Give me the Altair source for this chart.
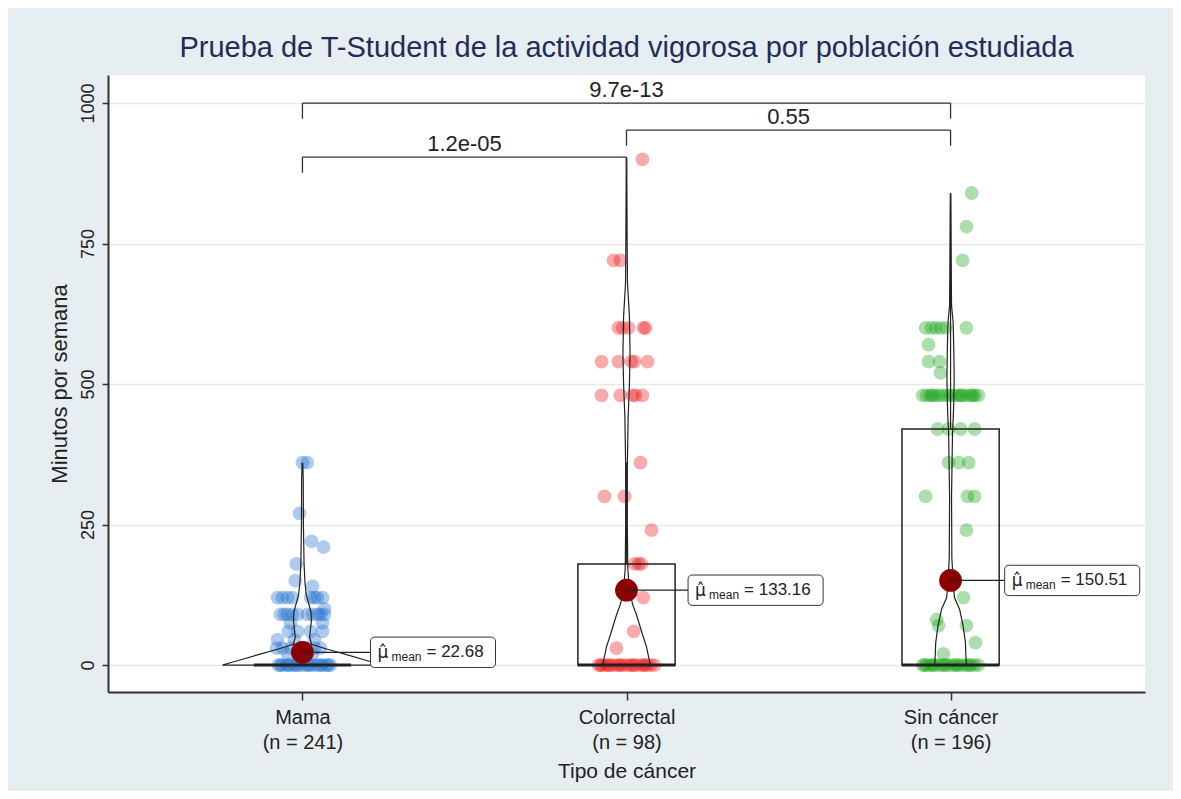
import altair as alt
import pandas as pd

# ---------------- data ----------------
categories = ["Mama", "Colorrectal", "Sin cáncer"]
n_counts = [241, 98, 196]
means = [22.68, 133.16, 150.51]
q1 = [0, 0, 0]
medians = [0, 0, 0]
q3 = [0, 180, 420]
whisker_hi = [0, 360, 840]

point_colors = ["#1f6fcc", "#ee1515", "#16a316"]

# jittered observations (value, horizontal jitter in category units)
mama_values = [360, 360, 270, 220, 210, 180, 150, 140,
               120, 120, 120, 120, 120, 120, 120, 120,
               100,
               90, 90, 90, 90, 90, 90, 90, 90, 90, 90,
               75, 75, 60, 60, 60, 60, 45, 45, 45,
               30, 30, 30, 30, 30, 30, 20, 20,
               0, 0, 0, 0, 0, 0, 0, 0, 0, 0, 0, 0, 0, 0, 0, 0, 0, 0, 0, 0]
mama_jitter = [0.000, 0.015, -0.009, 0.028, 0.065, -0.019, -0.022, 0.031,
               -0.077, -0.062, -0.046, 0.025, 0.037, 0.046, 0.062, -0.031,
               0.068,
               -0.068, -0.046, -0.031, -0.015, 0.015, 0.031, 0.046, 0.068, -0.056, 0.056,
               -0.037, 0.062, -0.043, 0.062, 0.025, -0.015, -0.077, -0.025, 0.037,
               -0.080, -0.062, -0.037, 0.012, 0.037, 0.056, -0.046, 0.031,
               -0.074, -0.062, -0.049, -0.037, -0.025, -0.012, 0.000, 0.012, 0.025, 0.037,
               0.049, 0.062, 0.074, 0.086, -0.068, -0.019, 0.019, 0.056, 0.080, -0.043]

colo_values = [900, 720, 720, 600, 600, 600, 600, 600,
               540, 540, 540, 540, 540, 480, 480, 480, 480, 480,
               360, 300, 300, 240, 180, 180, 180, 120, 60, 30,
               0, 0, 0, 0, 0, 0, 0, 0, 0, 0, 0, 0, 0, 0, 0, 0, 0, 0, 0, 0]
colo_jitter = [0.049, -0.040, -0.019, -0.025, -0.012, 0.052, 0.059, 0.006,
               -0.077, -0.025, 0.015, 0.025, 0.065, -0.077, -0.019, 0.019, 0.028, 0.049,
               0.043, -0.068, -0.006, 0.077, 0.025, 0.037, 0.046, 0.052, 0.022, -0.031,
               -0.086, -0.074, -0.062, -0.049, -0.037, -0.025, -0.012, 0.000, 0.012, 0.025,
               0.037, 0.049, 0.062, 0.074, 0.086, -0.056, -0.019, 0.019, 0.056, -0.080]

sin_values = [840, 780, 720, 600, 600, 600, 600, 600, 600, 570, 540, 540, 520,
              480, 480, 480, 480, 480, 480, 480, 480, 480, 480, 480, 480, 480, 480, 480, 480, 480, 480,
              420, 420, 420, 420, 360, 360, 360, 300, 300, 300, 240, 120, 81, 70, 70, 40, 20,
              0, 0, 0, 0, 0, 0, 0, 0, 0, 0, 0, 0, 0, 0, 0, 0, 0, 0, 0, 0]
sin_jitter = [0.065, 0.049, 0.037, -0.077, -0.059, -0.046, -0.015, 0.049, -0.031, -0.068, -0.068, -0.034, -0.031,
              -0.086, -0.074, -0.062, -0.049, -0.037, -0.025, -0.012, 0.000, 0.012, 0.025, 0.037, 0.049,
              0.062, 0.074, 0.086, -0.056, 0.031, 0.068,
              -0.040, -0.006, 0.031, 0.074, -0.006, 0.025, 0.056, -0.077, 0.052, 0.074, 0.049, 0.040,
              -0.043, -0.037, 0.049, 0.077, -0.022,
              -0.086, -0.074, -0.062, -0.049, -0.037, -0.025, -0.012, 0.000, 0.012, 0.025,
              0.037, 0.049, 0.062, 0.074, 0.086, -0.056, -0.019, 0.019, 0.056, -0.080]

# violin outlines: value levels and half-widths (category units)
mama_violin_y = [0, 8, 18, 28, 37, 50, 65, 80, 95, 110, 125, 145, 180, 250, 330, 359]
mama_violin_w = [0.247, 0.198, 0.139, 0.077, 0.028, 0.022, 0.025, 0.028, 0.026, 0.019,
                 0.012, 0.008, 0.005, 0.003, 0.0025, 0.001]
colo_violin_y = [0, 15, 32, 57, 89, 108, 132, 172, 250, 350, 440, 500, 553, 620, 680, 750, 850, 902]
colo_violin_w = [0.074, 0.068, 0.062, 0.048, 0.031, 0.019, 0.009, 0.004, 0.0025, 0.0025,
                 0.005, 0.009, 0.011, 0.009, 0.003, 0.002, 0.0012, 0.0006]
sin_violin_y = [0, 20, 39, 69, 99, 120, 150, 190, 300, 411, 450, 500, 519, 560, 609, 640, 720, 800, 838]
sin_violin_w = [0.049, 0.047, 0.046, 0.039, 0.028, 0.012, 0.008, 0.004, 0.003, 0.006,
                0.009, 0.011, 0.011, 0.010, 0.008, 0.003, 0.002, 0.0012, 0.0006]

# pairwise comparisons (ggsignif style)
comp_from = [1, 2, 1]
comp_to = [2, 3, 3]
comp_label = ["1.2e-05", "0.55", "9.7e-13"]
comp_level = [904, 952, 1000]

# where each mean label box starts, right of its group (category units)
label_offsets = [0.21, 0.19, 0.167]

# -------------- tables built from the lists --------------
groups = [1, 2, 3]
pts = []
for g, vals, jit in zip(groups, [mama_values, colo_values, sin_values],
                        [mama_jitter, colo_jitter, sin_jitter]):
    for v, j in zip(vals, jit):
        pts.append({"g": g, "x": g + j, "v": v, "cat": categories[g - 1]})
pts = pd.DataFrame(pts)

vrows = []
for g, ys, ws in zip(groups, [mama_violin_y, colo_violin_y, sin_violin_y],
                     [mama_violin_w, colo_violin_w, sin_violin_w]):
    k = 0
    for y, w in zip(ys, ws):
        vrows.append({"g": g, "x": g + w, "v": y, "o": k}); k += 1
    for y, w in zip(reversed(ys), reversed(ws)):
        vrows.append({"g": g, "x": g - w, "v": y, "o": k}); k += 1
    vrows.append({"g": g, "x": g + ws[0], "v": ys[0], "o": k})
violin = pd.DataFrame(vrows)

summ = pd.DataFrame({
    "g": groups, "cat": categories, "n": n_counts, "mean": means,
    "q1": q1, "med": medians, "q3": q3, "whi": whisker_hi, "off": label_offsets,
})
summ["meantxt"] = ["= " + f"{m:.2f}" for m in means]

comps = pd.DataFrame({"a": comp_from, "b": comp_to, "lab": comp_label, "lev": comp_level})

# -------------- scales / axes --------------
label_expr = " : ".join(
    f"datum.value == {g} ? ['{c}', '(n = {n})']" for g, c, n in zip(groups, categories, n_counts)
) + " : ''"

xscale = alt.Scale(domain=[0.4, 3.6], nice=False, zero=False)
yscale = alt.Scale(domain=[-48, 1050], nice=False, zero=False)
xaxis = alt.Axis(values=groups, labelExpr=label_expr, grid=False, tickSize=8,
                 labelFontSize=20, labelLineHeight=25, labelPadding=7,
                 titleFontSize=21, titlePadding=8)
yaxis = alt.Axis(values=[0, 250, 500, 750, 1000], format="d", grid=True, tickSize=6,
                 labelAngle=-90, labelAlign="center", labelBaseline="bottom",
                 labelFontSize=18, labelPadding=5, titleFontSize=22, titlePadding=8)


def X(field):
    return alt.X(field, type="quantitative", scale=xscale, axis=xaxis, title="Tipo de cáncer")


def Y(field):
    return alt.Y(field, type="quantitative", scale=yscale, axis=yaxis, title="Minutos por semana")


BLACK = "#222222"

points = alt.Chart(pts).mark_circle(size=190, opacity=0.36).encode(
    x=X("x"), y=Y("v"),
    color=alt.Color("cat:N", scale=alt.Scale(domain=categories, range=point_colors), legend=None),
)

violins = alt.Chart(violin).mark_line(color=BLACK, strokeWidth=1.2).encode(
    x=X("x"), y=Y("v"), detail="g:N", order=alt.Order("o:Q"),
)

boxes = alt.Chart(summ).transform_calculate(
    xl="datum.g - 0.15", xr="datum.g + 0.15"
).mark_rect(fillOpacity=0, stroke=BLACK, strokeWidth=1.5).encode(
    x=X("xl"), x2="xr", y=Y("q1"), y2="q3",
)

medians_rule = alt.Chart(summ).transform_calculate(
    xl="datum.g - 0.15", xr="datum.g + 0.15"
).mark_rule(color=BLACK, strokeWidth=3).encode(
    x=X("xl"), x2="xr", y=Y("med"),
)

whiskers = alt.Chart(summ).mark_rule(color=BLACK, strokeWidth=1.2).encode(
    x=X("g"), y=Y("q3"), y2="whi",
)

lab = alt.Chart(summ).transform_calculate(
    lx="datum.g + datum.off",
    rx="datum.g + datum.off + (55 + 10 * length(datum.meantxt)) / 324",
    lo="datum.mean - 27", hi="datum.mean + 27",
)

leader = lab.mark_rule(color=BLACK, strokeWidth=1.3).encode(
    x=X("g"), x2="lx", y=Y("mean"),
)
mean_dot = alt.Chart(summ).mark_circle(size=520, color="#8b0000", opacity=1).encode(
    x=X("g"), y=Y("mean"),
)
label_box = lab.mark_rect(fill="white", stroke="#333333", strokeWidth=1, cornerRadius=4).encode(
    x=X("lx"), x2="rx", y=Y("lo"), y2="hi",
)
mu_txt = lab.mark_text(text="μ̂", align="left", baseline="middle", dx=7, dy=1,
                       fontSize=17, font="DejaVu Sans", color=BLACK).encode(
    x=X("lx"), y=Y("mean"),
)
mean_sub = lab.mark_text(text="mean", align="left", baseline="middle", dx=21, dy=5,
                         fontSize=12, font="Liberation Sans", color=BLACK).encode(
    x=X("lx"), y=Y("mean"),
)
mean_val = lab.mark_text(align="left", baseline="middle", dx=56, dy=0,
                         fontSize=17, font="Liberation Sans", color=BLACK).encode(
    x=X("lx"), y=Y("mean"), text="meantxt:N",
)

cb = alt.Chart(comps).transform_calculate(
    tip="datum.lev - 28", mid="(datum.a + datum.b) / 2"
)
br_h = cb.mark_rule(color="#333333", strokeWidth=1.3).encode(x=X("a"), x2="b", y=Y("lev"))
br_l = cb.mark_rule(color="#333333", strokeWidth=1.3).encode(x=X("a"), y=Y("tip"), y2="lev")
br_r = cb.mark_rule(color="#333333", strokeWidth=1.3).encode(x=X("b"), y=Y("tip"), y2="lev")
br_t = cb.mark_text(baseline="alphabetic", dy=-6, fontSize=22, font="Liberation Sans",
                    color=BLACK).encode(x=X("mid"), y=Y("lev"), text="lab:N")

chart = alt.layer(
    points, violins, boxes, medians_rule, whiskers, mean_dot, leader,
    label_box, mu_txt, mean_sub, mean_val, br_h, br_l, br_r, br_t,
).properties(
    width=1037, height=617,
    title=alt.TitleParams(
        "Prueba de T-Student de la actividad vigorosa por población estudiada",
        fontSize=29, font="Liberation Sans", fontWeight="normal", color="#1e2d5a",
        anchor="middle", baseline="alphabetic", offset=-11,
    ),
    background="#e7eef1",
    autosize=alt.AutoSizeParams(type="none"),
    padding={"left": 100, "top": 67, "right": 28, "bottom": 99},
).configure_view(
    fill="white", strokeWidth=0,
).configure_axis(
    labelFont="Liberation Sans", titleFont="Liberation Sans",
    labelColor=BLACK, titleColor=BLACK, titleFontWeight="normal",
    domainColor="#333333", domainWidth=2, tickColor="#333333", tickWidth=1.5,
    gridColor="#e8e8e8", gridWidth=1.6,
)

chart.save("out.html", embed_options={"renderer": "svg", "actions": False})
